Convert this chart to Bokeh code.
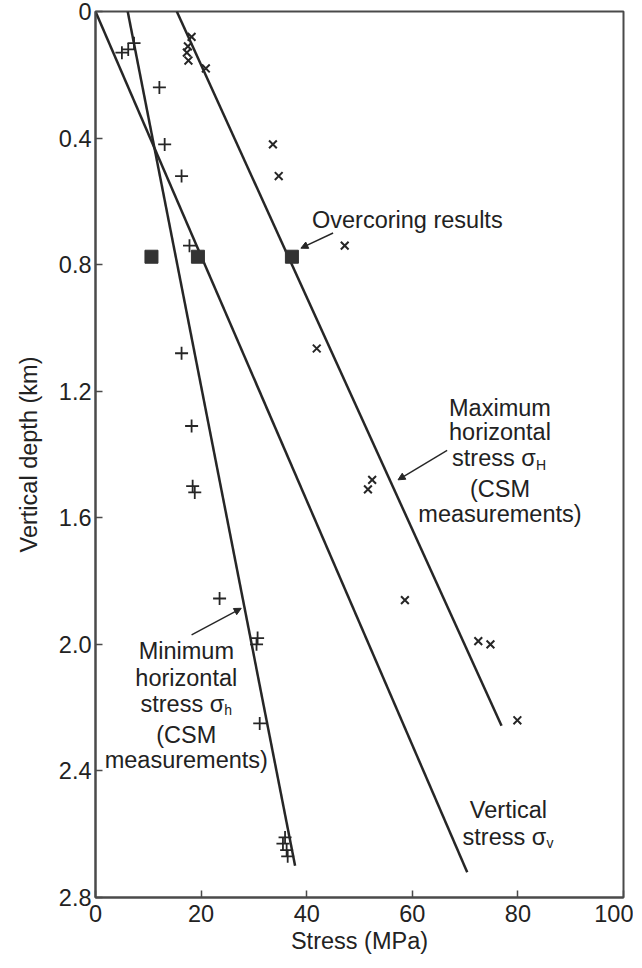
from bokeh.plotting import figure
from bokeh.models import Range1d, FixedTicker, CustomJSTickFormatter, Arrow, NormalHead
from bokeh.core.properties import value
from bokeh.embed import file_html
from bokeh.resources import INLINE

# ---- data ----
# Minimum horizontal stress measurements (CSM), "+" markers
sh_stress = [5.0, 6.2, 7.3, 12.1, 13.1, 16.3, 17.8, 16.3, 18.2, 18.4, 18.8, 23.5, 30.7, 30.5, 31.1, 35.9, 35.5, 36.2, 36.4]
sh_depth = [0.13, 0.12, 0.10, 0.24, 0.42, 0.52, 0.74, 1.08, 1.31, 1.50, 1.52, 1.855, 1.98, 2.00, 2.25, 2.61, 2.63, 2.65, 2.67]

# Maximum horizontal stress measurements (CSM), "x" markers
sH_stress = [18.2, 17.5, 17.3, 17.6, 20.9, 33.6, 34.7, 47.2, 41.9, 52.4, 51.6, 58.6, 72.5, 74.8, 79.9]
sH_depth = [0.08, 0.11, 0.13, 0.155, 0.18, 0.42, 0.52, 0.74, 1.065, 1.48, 1.51, 1.86, 1.99, 2.00, 2.24]

# Overcoring results (filled squares)
oc_stress = [10.6, 19.4, 37.2]
oc_depth = [0.775, 0.775, 0.775]

# Trend lines (end points)
line_h_stress = [6.1, 37.8]
line_h_depth = [0.0, 2.70]
line_v_stress = [0.0, 70.4]
line_v_depth = [0.0, 2.72]
line_H_stress = [15.4, 76.9]
line_H_depth = [0.0, 2.257]

# axis ticks
x_ticks = [0, 20, 40, 60, 80, 100]
y_ticks = [0, 0.4, 0.8, 1.2, 1.6, 2.0, 2.4, 2.8]

# annotation texts
max_lines = ["Maximum", "horizontal", "stress \u03c3", "(CSM", "measurements)"]
max_x = [76.6, 76.6, 76.6, 76.6, 76.6]
max_y = [1.252, 1.33, 1.41, 1.508, 1.587]
min_lines = ["Minimum", "horizontal", "stress \u03c3", "(CSM", "measurements)"]
min_x = [17.2, 17.2, 17.2, 17.2, 17.2]
min_y = [2.02, 2.105, 2.187, 2.288, 2.367]
vert_lines = ["Vertical", "stress \u03c3"]
vert_x = [78.2, 78.2]
vert_y = [2.525, 2.61]

TXT = "#222222"
INK = "#262626"
FONT = value("Liberation Sans")
FS = "23.5px"

p = figure(width=633, height=960,
           x_range=Range1d(0, 100), y_range=Range1d(2.8, 0),
           output_backend="svg", toolbar_location=None,
           min_border_left=95, min_border_top=11, min_border_right=10, min_border_bottom=63)

p.grid.visible = False
p.background_fill_color = "white"
p.border_fill_color = "white"
p.outline_line_color = "#4a4a4a"
p.outline_line_width = 2

for ax in (p.xaxis[0], p.yaxis[0]):
    ax.axis_line_color = "#4a4a4a"
    ax.axis_line_width = 2
    ax.major_tick_in = 7
    ax.major_tick_out = 0
    ax.minor_tick_in = 0
    ax.minor_tick_out = 0
    ax.major_tick_line_color = "#4a4a4a"
    ax.major_tick_line_width = 1.5
    ax.major_label_text_font = "Liberation Sans"
    ax.major_label_text_font_size = FS
    ax.major_label_text_color = TXT
    ax.axis_label_text_font = "Liberation Sans"
    ax.axis_label_text_font_size = FS
    ax.axis_label_text_font_style = "normal"
    ax.axis_label_text_color = TXT

p.xaxis.ticker = FixedTicker(ticks=x_ticks)
p.yaxis.ticker = FixedTicker(ticks=y_ticks)
p.yaxis.formatter = CustomJSTickFormatter(code="return Math.abs(tick) < 1e-9 ? '0' : tick.toFixed(1);")
p.xaxis.axis_label = "Stress (MPa)"
p.yaxis.axis_label = "Vertical depth (km)"
p.xaxis.major_label_standoff = 7
p.xaxis.axis_label_standoff = 3
p.yaxis.major_label_standoff = 4
p.yaxis.axis_label_standoff = 14

# lines
p.line(line_h_stress, line_h_depth, line_color=INK, line_width=2.5)
p.line(line_v_stress, line_v_depth, line_color=INK, line_width=2.5)
p.line(line_H_stress, line_H_depth, line_color=INK, line_width=2.5)

# markers
p.scatter(sh_stress, sh_depth, marker="cross", size=13, line_color=INK, line_width=1.8)
p.scatter(sH_stress, sH_depth, marker="x", size=11, line_color=INK, line_width=2)
p.scatter(oc_stress, oc_depth, marker="square", size=13, fill_color="#333333", line_color="#333333")

# annotation text
tkw = dict(text_font=FONT, text_font_size=value(FS), text_color=TXT,
           text_align="center", text_baseline="middle")
sub = dict(tkw, text_font_size=value("14px"), text_align="left")
p.text(x=[41.0], y=[0.66], text=["Overcoring results"], **dict(tkw, text_align="left"))

# Max horizontal block (the sigma line shifted left for its subscript)
p.text(x=max_x[:2] + max_x[3:], y=max_y[:2] + max_y[3:], text=max_lines[:2] + max_lines[3:], **tkw)
p.text(x=[max_x[2]], y=[max_y[2]], text=[max_lines[2]], x_offset=-6, **tkw)
p.text(x=[max_x[2]], y=[max_y[2]], text=["H"], x_offset=36, y_offset=7, **sub)

p.text(x=min_x[:2] + min_x[3:], y=min_y[:2] + min_y[3:], text=min_lines[:2] + min_lines[3:], **tkw)
p.text(x=[min_x[2]], y=[min_y[2]], text=[min_lines[2]], x_offset=-4, **tkw)
p.text(x=[min_x[2]], y=[min_y[2]], text=["h"], x_offset=38, y_offset=6, **sub)

p.text(x=vert_x[:1], y=vert_y[:1], text=vert_lines[:1], **tkw)
p.text(x=vert_x[1:], y=vert_y[1:], text=vert_lines[1:], x_offset=-4, **tkw)
p.text(x=[vert_x[1]], y=[vert_y[1]], text=["v"], x_offset=38, y_offset=6, **sub)

# arrows
def arrow(xs, ys, xe, ye):
    p.add_layout(Arrow(end=NormalHead(size=7, fill_color=INK, line_color=INK),
                       x_start=xs, y_start=ys, x_end=xe, y_end=ye,
                       line_color=INK, line_width=1.4))

arrow(45.0, 0.70, 38.9, 0.748)
arrow(66.6, 1.387, 57.3, 1.480)
arrow(18.2, 1.97, 27.6, 1.886)

open("out.html", "w").write(file_html(p, INLINE))
